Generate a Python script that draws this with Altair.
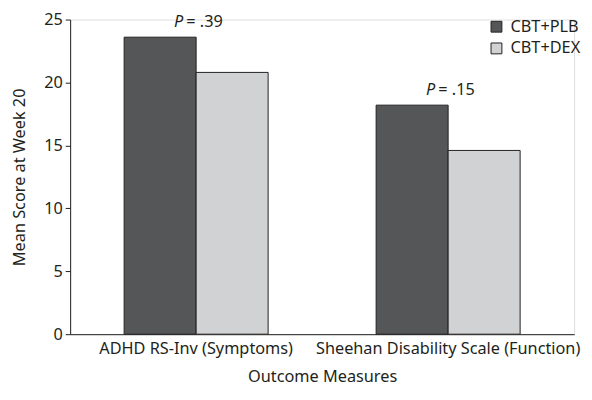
import altair as alt
import pandas as pd

measures = ["ADHD RS-Inv (Symptoms)", "Sheehan Disability Scale (Function)"]
groups = ["CBT+PLB", "CBT+DEX"]
plb_values = [23.6, 18.2]
dex_values = [20.8, 14.6]
p_labels = ["= .39", "= .15"]
colors = ["#555658", "#d1d2d4"]

rows = []
for i, m in enumerate(measures):
    rows.append({"measure": m, "group": groups[0], "value": plb_values[i]})
    rows.append({"measure": m, "group": groups[1], "value": dex_values[i]})
df = pd.DataFrame(rows)

pdf = pd.DataFrame({"measure": measures, "top": plb_values, "p": p_labels})

FONT = "Noto Sans"
FS = 16.5
INK = "#231f20"

x_enc = alt.X("measure:N", sort=measures, title="Outcome Measures",
              scale=alt.Scale(paddingInner=0.4286, paddingOuter=0.2143),
              axis=alt.Axis(labelAngle=0, ticks=False, labelPadding=7, labelLimit=0,
                            labelFontSize=FS, titleFontSize=FS, titlePadding=11,
                            titleFontWeight="normal", labelColor=INK,
                            titleColor=INK, domainColor=INK))
y_scale = alt.Scale(domain=[0, 25])

bars = alt.Chart(df).mark_bar(stroke=INK, strokeWidth=1).encode(
    x=x_enc,
    xOffset=alt.XOffset("group:N", sort=groups),
    y=alt.Y("value:Q", scale=y_scale, title="Mean Score at Week 20",
            axis=alt.Axis(values=[0, 5, 10, 15, 20, 25], grid=False, tickSize=5,
                          labelFontSize=FS, titleFontSize=FS, titlePadding=16,
                          titleFontWeight="normal", labelColor=INK,
                          titleColor=INK, domainColor=INK,
                          tickColor=INK, labelPadding=3)),
    color=alt.Color("group:N", scale=alt.Scale(domain=groups, range=colors),
                    legend=alt.Legend(title=None, orient="none", legendX=424, legendY=-1,
                                      symbolType="square", symbolSize=121,
                                      symbolStrokeColor=INK, symbolStrokeWidth=1,
                                      labelFontSize=FS, labelFont=FONT,
                                      labelColor=INK, rowPadding=5, labelOffset=6,
                                      symbolOpacity=1)),
)

ptext_p = alt.Chart(pdf).mark_text(text="P", fontStyle="italic", fontSize=FS, font=FONT,
                                   align="right", dx=-13, dy=-7, baseline="bottom",
                                   color=INK).encode(
    x=alt.X("measure:N", sort=measures),
    y=alt.Y("top:Q", scale=y_scale),
)
ptext_v = alt.Chart(pdf).mark_text(fontSize=FS, font=FONT, align="left", dx=-10, dy=-7,
                                   baseline="bottom", color=INK).encode(
    x=alt.X("measure:N", sort=measures),
    y=alt.Y("top:Q", scale=y_scale),
    text="p:N",
)

chart = alt.layer(bars, ptext_p, ptext_v).properties(
    width=511, height=319,
    autosize=alt.AutoSizeParams(type="none"),
    padding={"left": 63, "top": 9, "right": 10, "bottom": 64},
).configure_view(stroke=None).configure(font=FONT)

chart.save("out.html", embed_options={"renderer": "svg", "actions": False})
